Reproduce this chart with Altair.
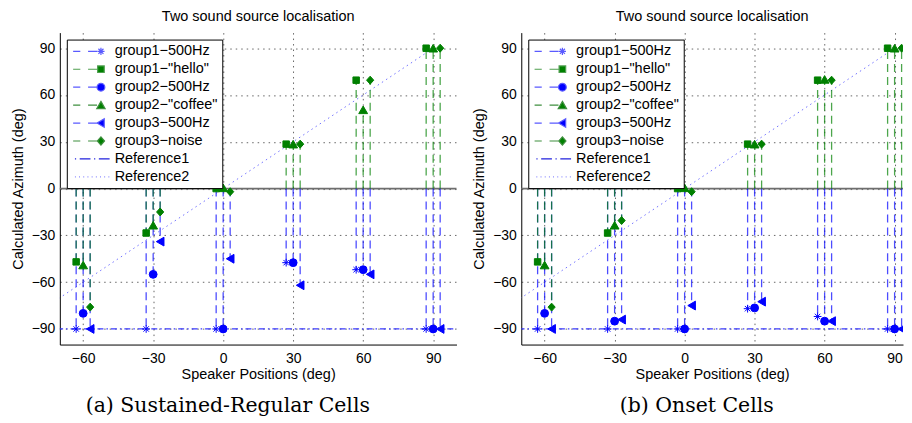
import altair as alt
import pandas as pd

# ---------------- data ----------------
speakers = [-60, -30, 0, 30, 60, 90]
series_names = ['group1\u2212500Hz', 'group1\u2212"hello"', 'group2\u2212500Hz',
                'group2\u2212"coffee"', 'group3\u2212500Hz', 'group3\u2212noise']
ref_names = ['Reference1', 'Reference2']
series_shift = [-3, -3, 0, 0, 3, 3]   # horizontal offset of each group around a speaker

# (a) Sustained-Regular cells
sr_g1_500 = [-90, -90, -90, -47.5, -52, -90]
sr_g1_hello = [-47, -28.5, 0, 28.5, 69.5, 90]
sr_g2_500 = [-80, -55, -90, -47.5, -52, -90]
sr_g2_coffee = [-49, -23.5, 0.5, 28.5, 50.5, 90]
sr_g3_500 = [-90, -34, -45, -62, -55, -90]
sr_g3_noise = [-76, -15, -2, 28.5, 69.5, 90]

# (b) Onset cells
on_g1_500 = [-90, -90, -90, -77, -82, -90]
on_g1_hello = [-47, -28.5, 0, 28.5, 69.5, 90]
on_g2_500 = [-80, -85, -90, -76.5, -85, -90]
on_g2_coffee = [-49, -23.5, 0.5, 28.5, 70, 90]
on_g3_500 = [-90, -84, -75, -72.5, -85, -90]
on_g3_noise = [-76, -20.5, -2, 28.5, 69.5, 90]

ref1_x = [-100, 100]
ref1_y = [-90, -90]
ref2_x = [-90, 90]
ref2_y = [-90, 90]
baseline_y = [0]

# ---------------- styles ----------------
BLUE = '#0000ff'
GREEN = '#008000'
series_colors = [BLUE, GREEN, BLUE, GREEN, BLUE, GREEN]
marker_shapes = [
    'M0,-1L0,1M-1,0L1,0M-0.7,-0.7L0.7,0.7M-0.7,0.7L0.7,-0.7',
    'square', 'circle', 'triangle-up', 'triangle-left',
    'M0,-1L0.9,0L0,1L-0.9,0Z']
marker_sizes = [60, 42, 62, 78, 78, 64]

DASH = 'M-0.9,0L0.3,0M1.6,0L3.1,0'
legend_paths = [
    DASH + 'M3.75,-0.6L3.75,0.6M3.15,0L4.35,0M3.33,-0.42L4.17,0.42M3.33,0.42L4.17,-0.42',
    DASH + 'M3.2,-0.55L4.3,-0.55L4.3,0.55L3.2,0.55Z',
    DASH + 'M4.4,0A0.65,0.65 0 1,1 3.1,0A0.65,0.65 0 1,1 4.4,0Z',
    DASH + 'M3.75,-0.62L4.45,0.6L3.05,0.6Z',
    DASH + 'M3.1,0L4.3,-0.7L4.3,0.7Z',
    DASH + 'M3.75,-0.7L4.35,0L3.75,0.7L3.15,0Z',
    'M-0.6,0L-0.4,0M0.2,0L2.0,0M2.6,0L2.8,0M3.4,0L5.2,0',
    'M-0.6,0L-0.45,0M0.1,0L0.25,0M0.8,0L0.95,0M1.5,0L1.65,0M2.2,0L2.35,0M2.9,0L3.05,0M3.6,0L3.75,0M4.3,0L4.45,0M5.0,0L5.15,0',
]
legend_fill = [BLUE, GREEN, BLUE, GREEN, BLUE, GREEN, BLUE, '#7070ff']
legend_stroke = ['#5a5aff', '#4f9f4f', '#5a5aff', '#3f8f3f', '#5a5aff', '#3f8f3f', '#2222dd', '#8080ff']

FONT = 'Liberation Sans'


def build_df(cols):
    rows = []
    for name, shift, vals in zip(series_names, series_shift, cols):
        for sp, v in zip(speakers, vals):
            rows.append({'series': name, 'x': sp + shift, 'y': v, 'base': 0})
    return pd.DataFrame(rows)


def panel(cols, caption, xmax, width, cap_dx):
    df = build_df(cols)
    xscale = alt.Scale(domain=[-70, xmax], nice=False, zero=False)
    yscale = alt.Scale(domain=[-100, 100], nice=False, zero=False)
    xaxis = alt.Axis(values=speakers, title='Speaker Positions (deg)', grid=True,
                     gridDash=[1.5, 4], gridColor='#666666', gridWidth=1, ticks=False,
                     domainColor='black', domainWidth=1, labelFont=FONT, labelFontSize=14,
                     labelColor='black', labelPadding=7, titleFont=FONT, titleFontSize=14.5,
                     titleFontWeight='normal', titleColor='black', titlePadding=2)
    yaxis = alt.Axis(values=[-90, -60, -30, 0, 30, 60, 90], title='Calculated Azimuth (deg)',
                     grid=True, gridDash=[1.5, 4], gridColor='#666666', gridWidth=1, ticks=False,
                     domainColor='black', domainWidth=1, labelFont=FONT, labelFontSize=14,
                     labelColor='black', labelPadding=5, titleFont=FONT, titleFontSize=14.5,
                     titleFontWeight='normal', titleColor='black', titlePadding=6)
    X = alt.X('x:Q', scale=xscale, axis=xaxis)
    Y = alt.Y('y:Q', scale=yscale, axis=yaxis)

    base = alt.Chart(pd.DataFrame({'y': baseline_y})).mark_rule(
        color='#6e6e6e', strokeWidth=1.6).encode(y=alt.Y('y:Q', scale=yscale, axis=yaxis))

    ref2 = alt.Chart(pd.DataFrame({'x': ref2_x, 'y': ref2_y})).mark_line(
        color='#7272ff', strokeWidth=1, strokeDash=[1.5, 3.5], clip=True).encode(x=X, y=Y)

    stems = alt.Chart(df).mark_rule(strokeWidth=1.3, strokeDash=[8, 5], opacity=0.7, clip=True).encode(
        x=X, y=alt.Y('base:Q', scale=yscale, axis=yaxis), y2='y:Q',
        color=alt.Color('series:N', scale=alt.Scale(domain=series_names, range=series_colors), legend=None))

    ref1 = alt.Chart(pd.DataFrame({'x': ref1_x, 'y': ref1_y})).mark_line(
        color='#3b3bff', strokeWidth=1.2, strokeDash=[6, 3, 1.5, 3], clip=True).encode(x=X, y=Y)

    point_layers = []
    for name, shp, sz, col in zip(series_names, marker_shapes, marker_sizes, series_colors):
        point_layers.append(
            alt.Chart(df[df['series'] == name]).mark_point(
                shape=shp, size=sz, filled=True, fill=col, stroke=col, strokeWidth=1,
                opacity=1, clip=True).encode(x=X, y=Y))

    leg = alt.Legend(title=None, orient='top-left', offset=6.5, padding=4.5,
                     fillColor='white', strokeColor='black', symbolSize=144,
                     symbolStrokeWidth=1.2, labelFont=FONT, labelFontSize=14.5,
                     labelColor='black', labelOffset=29, rowPadding=3, labelLimit=300)
    all_names = series_names + ref_names
    legend_layer = alt.Chart(df).transform_filter('false').mark_point(filled=True, opacity=1).encode(
        x=X, y=Y,
        fill=alt.Fill('series:N', scale=alt.Scale(domain=all_names, range=legend_fill), legend=leg),
        stroke=alt.Stroke('series:N', scale=alt.Scale(domain=all_names, range=legend_stroke), legend=leg),
        shape=alt.Shape('series:N', scale=alt.Scale(domain=all_names, range=legend_paths), legend=leg),
    )

    layer = alt.layer(base, ref2, stems, ref1, *point_layers, legend_layer).resolve_scale(
        fill='independent', stroke='independent', shape='independent',
        color='independent').properties(
        width=width, height=313,
        title=alt.TitleParams('Two sound source localisation', font=FONT, fontSize=14.5,
                              fontWeight='normal', color='black', anchor='middle', offset=8))
    return alt.vconcat(layer).properties(
        title=alt.TitleParams(caption, orient='bottom', font='DejaVu Serif', fontSize=20.5,
                              fontWeight='normal', color='black', anchor='middle', offset=15,
                              dx=cap_dx))


left = panel([sr_g1_500, sr_g1_hello, sr_g2_500, sr_g2_coffee, sr_g3_500, sr_g3_noise],
             '(a) Sustained-Regular Cells', 100, 398, -6)
right = panel([on_g1_500, on_g1_hello, on_g2_500, on_g2_coffee, on_g3_500, on_g3_noise],
              '(b) Onset Cells', 93.6, 383, 9)

chart = alt.hconcat(left, right, spacing=14).resolve_scale(
    x='independent', y='independent', fill='independent', stroke='independent',
    shape='independent', color='independent').properties(
    padding={'left': 2, 'top': 0, 'right': 0, 'bottom': 0}).configure_view(stroke=None)

chart.save('out.html', embed_options={'renderer': 'svg', 'actions': False})
